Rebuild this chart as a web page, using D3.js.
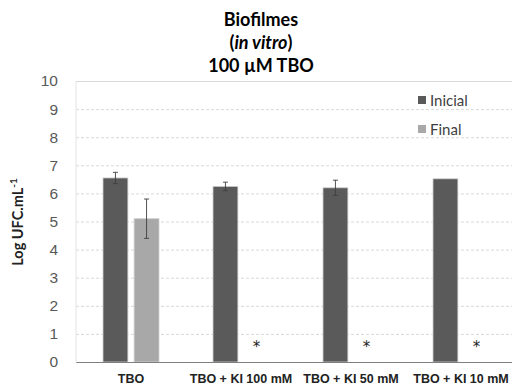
<!DOCTYPE html>
<html>
<head>
<meta charset="utf-8">
<script src="https://cdn.jsdelivr.net/npm/d3@7"></script>
<style>
  body { margin: 0; background: #fff; }
  svg { display: block; font-family: Lato, "Open Sans", sans-serif; }
</style>
</head>
<body>
<svg id="chart" width="512" height="392"></svg>
<script>
// data
const categories = ["TBO", "TBO + KI 100 mM", "TBO + KI 50 mM", "TBO + KI 10 mM"];
const series = ["Inicial", "Final"];
const inicial = [6.55, 6.25, 6.2, 6.52];
const inicialErr = [0.2, 0.15, 0.27, 0];
const final = [5.1, 0, 0, 0];
const finalErr = [0.7, 0, 0, 0];
const finalStar = [false, true, true, true];
const yTicks = [0, 1, 2, 3, 4, 5, 6, 7, 8, 9, 10];

const COLORS = { Inicial: "#5a5a5a", Final: "#a8a8a8" };

const W = 512, H = 392;
const m = { top: 81, right: -4, bottom: 30, left: 76 };
const w = W - m.left - m.right;
const h = H - m.top - m.bottom;

const svg = d3.select("#chart");
const g = svg.append("g").attr("transform", `translate(${m.left},${m.top})`);

const x = d3.scaleBand().domain(categories).range([0, w]);
const xs = d3.scaleBand().domain(series).range([27, 83]).paddingInner(0.2);
const y = d3.scaleLinear().domain([0, 10]).range([h, 0]);

// grid
g.append("g")
    .call(d3.axisLeft(y).tickValues(yTicks).tickSize(-w).tickFormat(""))
    .call(g => g.select(".domain").remove())
    .call(g => g.selectAll("line")
        .attr("stroke", "#d9d9d9")
        .attr("stroke-dasharray", d => d === 10 ? null : "3,2"));

// left plot border
g.append("line").attr("x1", 0).attr("x2", 0).attr("y1", 0).attr("y2", h)
    .attr("stroke", "#e3e3e3");

// y axis labels
g.append("g")
    .call(d3.axisLeft(y).tickValues(yTicks).tickSize(0).tickPadding(18))
    .call(g => g.select(".domain").remove())
    .call(g => g.selectAll("text").attr("fill", "#595959").attr("font-size", 15.5));

// bars
const rows = categories.map((c, i) => ({
    cat: c,
    vals: [
        { s: "Inicial", v: inicial[i], e: inicialErr[i] },
        { s: "Final", v: final[i], e: finalErr[i], star: finalStar[i] }
    ]
}));

const grp = g.selectAll(".grp").data(rows).join("g")
    .attr("transform", d => `translate(${x(d.cat)},0)`);

grp.selectAll("rect").data(d => d.vals.filter(v => v.v > 0)).join("rect")
    .attr("x", d => xs(d.s)).attr("width", xs.bandwidth())
    .attr("y", d => y(d.v)).attr("height", d => h - y(d.v))
    .attr("fill", d => COLORS[d.s])
    .attr("stroke", "#d0d0d0").attr("stroke-width", 0.8);

// error bars
const eb = grp.selectAll(".err").data(d => d.vals.filter(v => v.e > 0)).join("g")
    .attr("stroke", "#404040").attr("stroke-width", 0.9);
eb.append("line")
    .attr("x1", d => xs(d.s) + xs.bandwidth() / 2).attr("x2", d => xs(d.s) + xs.bandwidth() / 2)
    .attr("y1", d => y(d.v - d.e)).attr("y2", d => y(d.v + d.e));
[-1, 1].forEach(sgn => {
    eb.append("line")
        .attr("x1", d => xs(d.s) + xs.bandwidth() / 2 - 2.5).attr("x2", d => xs(d.s) + xs.bandwidth() / 2 + 2.5)
        .attr("y1", d => y(d.v + sgn * d.e)).attr("y2", d => y(d.v + sgn * d.e));
});

// asterisks
grp.selectAll(".star").data(d => d.vals.filter(v => v.star)).join("text")
    .attr("x", d => xs(d.s) + xs.bandwidth() / 2).attr("y", h - 10)
    .attr("text-anchor", "middle").attr("font-size", 15)
    .attr("font-family", "DejaVu Sans").attr("fill", "#222")
    .text("*");

// x axis
g.append("g").attr("transform", `translate(0,${h})`)
    .call(d3.axisBottom(x).tickSize(0).tickPadding(12))
    .call(g => g.select(".domain").attr("stroke", "#7f7f7f").attr("stroke-width", 1.2))
    .call(g => g.selectAll("text").attr("fill", "#222").attr("font-size", 12.5).attr("font-weight", "bold"));

// legend
const lg = svg.append("g").attr("transform", "translate(418,100)");
series.forEach((s, i) => {
    const row = lg.append("g").attr("transform", `translate(0,${i * 29})`);
    row.append("rect").attr("x", 0).attr("y", -4).attr("width", 8).attr("height", 8).attr("fill", COLORS[s]);
    row.append("text").attr("x", 12).attr("y", 5.5).attr("font-size", 15).attr("fill", "#404040").text(s);
});

// y title
svg.append("text")
    .attr("transform", "translate(23,222) rotate(-90)")
    .attr("text-anchor", "middle").attr("font-size", 14.5).attr("font-weight", "bold").attr("fill", "#222")
    .call(t => {
        t.append("tspan").text("Log UFC.mL");
        t.append("tspan").attr("font-size", 10).attr("dy", -6).text("-1");
    });

// title
const title = svg.append("text").attr("text-anchor", "middle").attr("font-weight", "bold")
    .attr("font-size", 18).attr("fill", "#000");
title.append("tspan").attr("x", 261).attr("y", 26).text("Biofilmes");
const t2 = title.append("tspan").attr("x", 261).attr("y", 49);
t2.append("tspan").text("(");
t2.append("tspan").attr("font-style", "italic").text("in vitro");
t2.append("tspan").text(")");
title.append("tspan").attr("x", 261).attr("y", 72).text("100 µM TBO");
</script>
</body>
</html>
